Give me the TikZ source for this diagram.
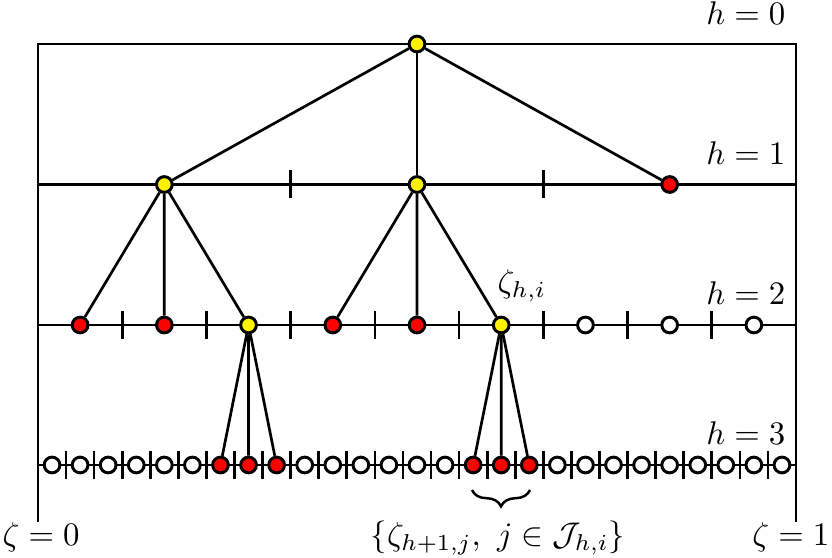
\documentclass[tikz,border=0pt]{standalone}
\usetikzlibrary{decorations.pathreplacing}
\begin{document}
\begin{tikzpicture}[x=0.305pt,y=-0.305pt,
  base/.style={line width=0.82pt},
  tickmark/.style={line width=0.82pt},
  vtx/.style={circle,draw,line width=0.9pt,minimum size=4.8pt,inner sep=0pt},
  yel/.style={vtx,fill=yellow},
  rd/.style={vtx,fill=red},
  wt/.style={vtx,fill=white},
  edge/.style={line width=0.82pt},
  lab/.style={anchor=base east,inner sep=0pt}]
\useasboundingbox (0,0) rectangle (832,558);
% frame and level lines
\draw[base] (38,522) -- (38,44) -- (796,44) -- (796,522);
\foreach \y in {184.5,325,465} \draw[base] (38,\y) -- (796,\y);
% ticks
\foreach \k in {1,2} \draw[tickmark] ({38+\k*252.6667},170.5) -- ++(0,28);
\foreach \k in {1,...,8} \draw[tickmark] ({38+\k*84.2222},311) -- ++(0,28);
\foreach \k in {1,...,26} \draw[tickmark] ({38+\k*28.0741},451) -- ++(0,28);
% nodes
\node[yel] (n0) at (417,44) {};
\foreach \f [count=\k from 0] in {yel,yel,rd}
  \node[\f] (a\k) at ({38+(\k+0.5)*252.6667},184.5) {};
\foreach \f [count=\k from 0] in {rd,rd,yel,rd,rd,yel,wt,wt,wt}
  \node[\f] (b\k) at ({38+(\k+0.5)*84.2222},325) {};
\foreach \f [count=\k from 0] in {wt,wt,wt,wt,wt,wt,rd,rd,rd,wt,wt,wt,wt,wt,wt,rd,rd,rd,wt,wt,wt,wt,wt,wt,wt,wt,wt}
  \node[\f] (c\k) at ({38+(\k+0.5)*28.0741},465) {};
% connectors
\foreach \t in {a0,a1,a2} \draw[edge] (n0) -- (\t);
\foreach \t in {b0,b1,b2} \draw[edge] (a0) -- (\t);
\foreach \t in {b3,b4,b5} \draw[edge] (a1) -- (\t);
\foreach \t in {c6,c7,c8} \draw[edge] (b2) -- (\t);
\foreach \t in {c15,c16,c17} \draw[edge] (b5) -- (\t);
% labels
\node[lab] (h0) at (786,25) {$h=0$};
\node[lab] (h1) at (786,164.5) {$h=1$};
\node[lab] (h2) at (786,305) {$h=2$};
\node[lab] (h3) at (786,445) {$h=3$};
\node[anchor=base west,inner sep=0pt] (z0) at (2,546) {$\zeta=0$};
\node[anchor=base east,inner sep=0pt] (z1) at (830,546) {$\zeta=1$};
\node[anchor=base west,inner sep=0pt] (zhi) at (497,293) {$\zeta_{h,i}$};
\coordinate (bl) at (472,490);
\coordinate (br) at (530,490);
\draw[line width=0.75pt,decorate,decoration={brace,mirror,amplitude=5pt}] (bl) -- (br);
\node[anchor=base,inner sep=0pt] (set) at (498,546) {$\{\zeta_{h+1,j},\ j\in\mathcal{J}_{h,i}\}$};
\end{tikzpicture}
\end{document}
